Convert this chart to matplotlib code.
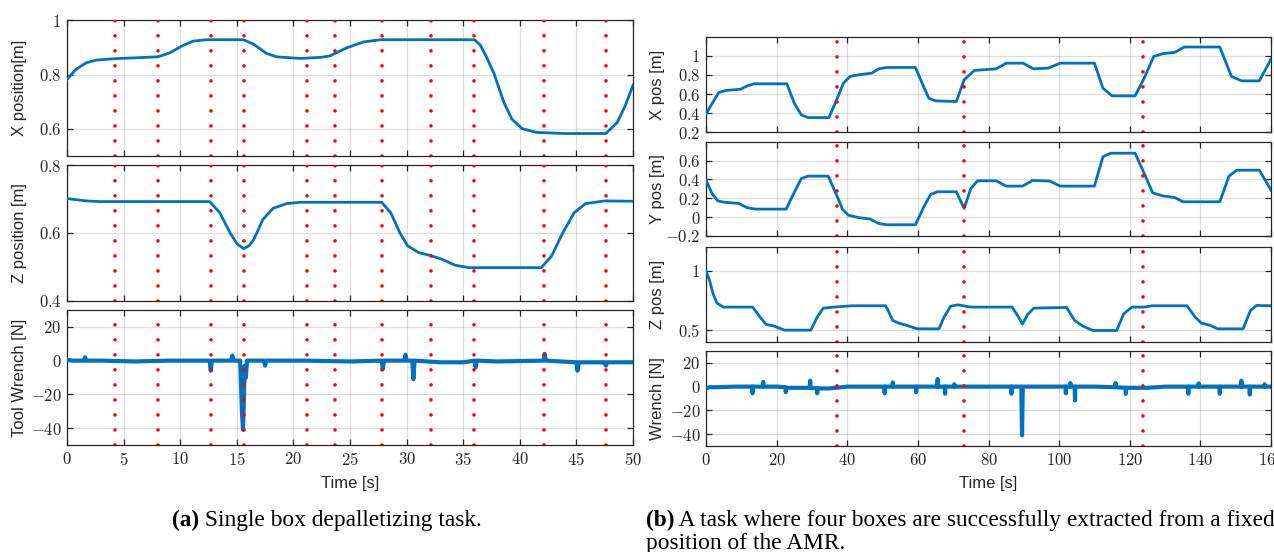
import numpy as np
import matplotlib
matplotlib.use("Agg")
import matplotlib.pyplot as plt
from matplotlib.text import Annotation
from matplotlib.ticker import FixedLocator, FuncFormatter

plt.rcParams['font.family'] = ['Liberation Sans', 'DejaVu Sans']
plt.rcParams['mathtext.fontset'] = 'cm'

BLUE = '#0072BD'
DARK = '#262626'

# ---------------- (a) single box depalletizing ----------------
a_events = [4.2, 8.0, 12.75, 15.6, 21.2, 23.7, 27.85, 32.15, 35.95, 42.15, 47.6]

a_x_t = [0, 0.8, 1.7, 2.6, 4.2, 6.4, 8.05, 9.1, 10.1, 11.15, 12.3, 15.6, 16.5,
         17.6, 18.5, 20.6, 22.4, 23.2, 24.7, 26.2, 27.7, 36.0, 36.5, 37.0,
         37.7, 38.6, 39.3, 40.2, 41.5, 43.9, 47.6, 48.6, 49.3, 50]
a_x_v = [0.783, 0.82, 0.844, 0.854, 0.859, 0.863, 0.866, 0.881, 0.905, 0.924,
         0.929, 0.929, 0.912, 0.879, 0.866, 0.860, 0.864, 0.869, 0.899, 0.921,
         0.929, 0.929, 0.910, 0.870, 0.807, 0.697, 0.636, 0.601, 0.587, 0.583,
         0.583, 0.623, 0.684, 0.761]

a_z_t = [0, 1.7, 2.9, 12.6, 13.5, 14.4, 15.0, 15.6, 16.1, 16.5, 17.3, 18.2,
         19.4, 20.6, 27.8, 28.6, 29.4, 30.1, 31.1, 32.1, 33.1, 34.3, 35.5,
         41.9, 42.8, 43.8, 44.8, 45.8, 47.5, 50]
a_z_v = [0.701, 0.694, 0.692, 0.692, 0.659, 0.600, 0.568, 0.553, 0.562, 0.580,
         0.639, 0.672, 0.686, 0.690, 0.690, 0.659, 0.600, 0.561, 0.541, 0.533,
         0.522, 0.504, 0.497, 0.497, 0.531, 0.600, 0.659, 0.686, 0.694, 0.693]

a_w_t = [0, 0.5, 1.5, 1.6, 1.7, 3, 6, 9, 12.6, 12.7, 12.8, 14.5, 14.6, 14.7,
         15.3, 15.45, 15.55, 15.7, 15.8, 15.9, 17.4, 17.5, 17.6, 21, 25, 27.8,
         27.9, 28.0, 29.8, 29.9, 30.0, 30.5, 30.6, 30.7, 33, 35, 36.0, 36.1,
         36.2, 38, 42.1, 42.2, 42.3, 45.0, 45.1, 45.2, 47.5, 47.6, 47.7, 50]
a_w_v = [0.5, 0, 0, 2, 0, 0, -0.5, 0, 0, -6, 0, 0, 3, 0, 0, -30, -41, -3, -10,
         0, 0, -3, 0, 0, -0.5, 0, -5, 0, 0, 3.5, 0, 0, -11, 0, -1, -1, 0, -4,
         0, -0.5, 0, 4, 0, -1, -6, -1, -1, -3, -1, -1]

# ---------------- (b) four boxes from fixed AMR position ----------------
b_events = [37.0, 73.1, 123.8]

b_x_t = [0, 1.7, 3.6, 5.5, 9.8, 11.7, 13.6, 22.9, 25.0, 27.0, 28.9, 34.8, 37.0,
         38.9, 40.8, 43.1, 46.95, 48.9, 51.2, 59.3, 61.2, 63.1, 65.0, 70.9,
         73.1, 76.0, 82.2, 85.0, 89.8, 92.7, 96.9, 100.3, 110.0, 112.4, 115.0,
         121.5, 124.1, 126.8, 129.3, 132.7, 135.5, 145.5, 148.8, 151.7, 156.7,
         160]
b_x_v = [0.39, 0.50, 0.615, 0.637, 0.651, 0.686, 0.707, 0.707, 0.504, 0.382,
         0.354, 0.354, 0.539, 0.714, 0.784, 0.801, 0.819, 0.864, 0.878, 0.878,
         0.714, 0.557, 0.529, 0.522, 0.749, 0.847, 0.864, 0.923, 0.923, 0.864,
         0.871, 0.923, 0.923, 0.662, 0.581, 0.581, 0.766, 0.994, 1.022, 1.036,
         1.092, 1.092, 0.784, 0.738, 0.738, 0.965]

b_y_t = [0, 1.7, 3.3, 5.0, 9.3, 11.7, 14.1, 22.7, 24.6, 27.0, 28.9, 34.6, 37.0,
         38.7, 40.3, 43.1, 46.5, 48.9, 51.2, 59.3, 61.7, 63.6, 65.5, 70.9,
         73.1, 75.0, 76.9, 82.2, 85.0, 89.6, 92.5, 97.4, 100.3, 110.0, 112.4,
         114.6, 121.5, 124.1, 126.5, 129.3, 132.7, 135.1, 145.5, 148.1, 150.3,
         156.7, 160]
b_y_v = [0.392, 0.251, 0.173, 0.159, 0.145, 0.099, 0.085, 0.085, 0.233, 0.410,
         0.435, 0.435, 0.233, 0.081, 0.021, -0.004, -0.021, -0.067, -0.081,
         -0.081, 0.110, 0.240, 0.269, 0.269, 0.092, 0.304, 0.385, 0.385, 0.329,
         0.329, 0.389, 0.382, 0.329, 0.329, 0.640, 0.678, 0.678, 0.463, 0.258,
         0.226, 0.208, 0.163, 0.163, 0.435, 0.498, 0.498, 0.286]

b_z_t = [0, 1.0, 2.0, 3.1, 4.9, 13.2, 15.3, 17.0, 19.3, 22.2, 29.7, 31.5, 33.2,
         36.1, 41.3, 50.9, 52.9, 54.6, 57.5, 59.8, 66.0, 67.4, 69.3, 71.4,
         74.9, 86.7, 88.2, 89.6, 91.1, 92.8, 102.1, 104.4, 106.7, 109.6, 116.3,
         118.3, 120.6, 124.1, 126.4, 136.2, 138.5, 140.3, 142.6, 144.9, 152.1,
         154.2, 155.9, 160]
b_z_v = [1.0, 0.92, 0.806, 0.728, 0.694, 0.694, 0.61, 0.548, 0.534, 0.5, 0.5,
         0.61, 0.685, 0.694, 0.705, 0.705, 0.581, 0.559, 0.534, 0.511, 0.511,
         0.61, 0.702, 0.713, 0.694, 0.694, 0.624, 0.551, 0.632, 0.685, 0.691,
         0.581, 0.534, 0.497, 0.497, 0.638, 0.694, 0.694, 0.705, 0.705, 0.61,
         0.559, 0.542, 0.511, 0.511, 0.666, 0.708, 0.705]

b_w_t = [0, 1, 3, 8, 13.1, 13.2, 13.3, 16.1, 16.2, 16.3, 20, 22.5, 22.6, 22.7,
         29.4, 29.5, 29.6, 31.4, 31.5, 31.6, 35, 40, 45, 50.5, 50.6, 50.7, 52.8,
         52.9, 53.0, 59.4, 59.5, 59.6, 65.5, 65.6, 65.7, 67.6, 67.7, 67.8, 70.2,
         70.3, 70.4, 78, 86.4, 86.5, 86.6, 89.3, 89.5, 89.7, 95, 101.8, 101.9,
         102.0, 103.1, 103.2, 103.3, 104.4, 104.5, 104.6, 110, 115.9, 116.0,
         116.1, 118.8, 118.9, 119.0, 125, 130, 136.5, 136.6, 136.7, 139.4, 139.5,
         139.6, 145.4, 145.5, 145.6, 151.5, 151.6, 151.7, 153.9, 154.0, 154.1,
         158.1, 158.2, 158.3, 160]
b_w_v = [-1.5, -0.5, -0.5, 0, 0, -5.6, 0, 0, 4, 0, 0, -0.5, -4.7, -1, -1, 5,
         -1, -1.5, -5.6, -1.5, -1.5, 0, 0, 0, -5.6, 0, 0, 3.6, 0, 0, -4.7, 0, 0,
         6.4, 0, 0, -6, 0, 0, 2, 0, 0, 0, -6, 0, 0, -41, 0, 0, 0, -5.6, 0, 0, 3,
         0, 0, -11.7, 0, 0, -0.5, 3, -0.5, -1, -6, -1, -1, 0, 0, -6, 0, 0, 2.8,
         0, 0, -6, 0, 0, 5, 0, 0, -6.7, 0, 0, 2, 0, 0]


def style_axis(ax, xlim, ylim, xticks, yticks, show_x):
    ax.set_xlim(xlim)
    ax.set_ylim(ylim)
    ax.xaxis.set_major_locator(FixedLocator(xticks))
    ax.yaxis.set_major_locator(FixedLocator(yticks))
    fmt = FuncFormatter(lambda v, p: r'$%g$' % round(v, 3))
    ax.xaxis.set_major_formatter(fmt)
    ax.yaxis.set_major_formatter(fmt)
    ax.tick_params(direction='in', top=True, right=True, length=4.5,
                   width=0.9, color=DARK, labelcolor=DARK, labelsize=12,
                   pad=4)
    if not show_x:
        ax.tick_params(labelbottom=False)
    for s in ax.spines.values():
        s.set_color(DARK)
        s.set_linewidth(0.9)
    ax.grid(True, color=DARK, alpha=0.15, linewidth=0.9)
    ax.set_axisbelow(True)


def add_events(ax, events):
    for e in events:
        ax.axvline(e, color='red', linewidth=2.6, linestyle=(0, (0.01, 4.15)),
                   dash_capstyle='round', zorder=4)


fig = plt.figure(figsize=(12.74, 5.52), dpi=100)
W, H = 1274.0, 552.0


def add_ax(x0, x1, y0, y1):
    return fig.add_axes([x0 / W, 1 - y1 / H, (x1 - x0) / W, (y1 - y0) / H])


# left panel
la = [add_ax(67, 633, 20.5, 156), add_ax(67, 633, 165, 300.5),
      add_ax(67, 633, 310, 445)]
a_series = [(a_x_t, a_x_v), (a_z_t, a_z_v), (a_w_t, a_w_v)]
a_ylims = [(0.5, 1), (0.4, 0.8), (-50, 30)]
a_yticks = [[0.6, 0.8, 1], [0.4, 0.6, 0.8], [-40, -20, 0, 20]]
a_labels = ['X position[m]', 'Z position [m]', 'Tool Wrench [N]']
for i, ax in enumerate(la):
    style_axis(ax, (0, 50), a_ylims[i], np.arange(0, 51, 5), a_yticks[i], i == 2)
    t, v = a_series[i]
    ax.plot(t, v, color=BLUE, linewidth=3.0 if i == 2 else 2.0,
            solid_joinstyle='round', zorder=3)
    add_events(ax, a_events)
    ax.set_ylabel(a_labels[i], fontsize=12, color=DARK)
    ax.yaxis.set_label_coords(-0.071, 0.5)
la[2].set_xlabel('Time [s]', fontsize=12, color=DARK, labelpad=6)

# right panel
ra = [add_ax(706, 1271, 36.7, 132.3), add_ax(706, 1271, 141.7, 236),
      add_ax(706, 1271, 247, 342), add_ax(706, 1271, 351, 446)]
b_series = [(b_x_t, b_x_v), (b_y_t, b_y_v), (b_z_t, b_z_v), (b_w_t, b_w_v)]
b_ylims = [(0.2, 1.2), (-0.2, 0.8), (0.4, 1.2), (-50, 30)]
b_yticks = [[0.2, 0.4, 0.6, 0.8, 1], [-0.2, 0, 0.2, 0.4, 0.6], [0.5, 1],
            [-40, -20, 0, 20]]
b_labels = ['X pos [m]', 'Y pos [m]', 'Z pos [m]', 'Wrench [N]']
for i, ax in enumerate(ra):
    style_axis(ax, (0, 160), b_ylims[i], np.arange(0, 161, 20), b_yticks[i], i == 3)
    t, v = b_series[i]
    ax.plot(t, v, color=BLUE, linewidth=3.0 if i == 3 else 2.0,
            solid_joinstyle='round', zorder=3)
    add_events(ax, b_events)
    ax.set_ylabel(b_labels[i], fontsize=12, color=DARK)
    ax.yaxis.set_label_coords(-0.073, 0.5)
ra[3].set_xlabel('Time [s]', fontsize=12, color=DARK, labelpad=6)

# captions
cap = dict(family='Liberation Serif', fontsize=16.8, color='black')
ta = fig.text(172 / W, 1 - 526 / H, '(a)', fontweight='bold', va='baseline', **cap)
fig.add_artist(Annotation(' Single box depalletizing task.',
                          xy=(1, 0), xycoords=ta, va='bottom', **cap))
tb = fig.text(646 / W, 1 - 526 / H, '(b)', fontweight='bold', va='baseline', **cap)
fig.add_artist(Annotation(
    ' A task where four boxes are successfully extracted from a fixed',
    xy=(1, 0), xycoords=tb, va='bottom', **cap))
fig.text(646 / W, 1 - 549 / H, 'position of the AMR.', va='baseline', **cap)

fig.savefig('out.png', dpi=100)
